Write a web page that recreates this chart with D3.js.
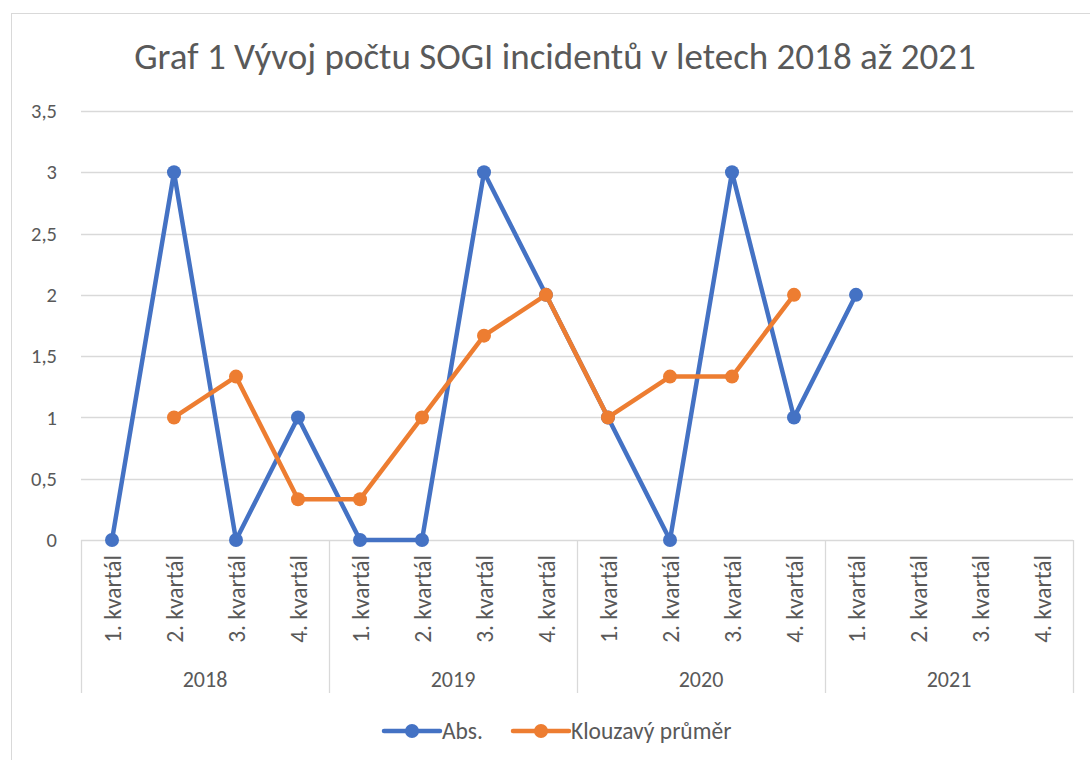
<!DOCTYPE html>
<html>
<head>
  <meta charset="utf-8">
  <style>
    body { margin: 0; background: white; }
    text { font-family: Carlito, Calibri, Lato, "Open Sans", sans-serif; fill: #595959; }
  </style>
</head>
<body>
  <script src="https://d3js.org/d3.v7.min.js"></script>
  <script>
    var width = 1090, height = 760;

    var years = ["2018", "2019", "2020", "2021"];
    var quarters = ["1. kvartál", "2. kvartál", "3. kvartál", "4. kvartál"];
    var absValues = [0, 3, 0, 1, 0, 0, 3, 2, 1, 0, 3, 1, 2, null, null, null];
    var movingAvg = [null, 1, 1.333, 0.333, 0.333, 1, 1.667, 2, 1, 1.333, 1.333, 2, null, null, null, null];
    var yTicks = [0, 0.5, 1, 1.5, 2, 2.5, 3, 3.5];

    var series = [
      { name: "Abs.", values: absValues, color: "#4472C4" },
      { name: "Klouzavý průměr", values: movingAvg, color: "#ED7D31" }
    ];

    // one entry per quarter
    var cats = [];
    years.forEach(y => quarters.forEach(q => cats.push(y + "|" + q)));

    var svg = d3.select("body").append("svg")
      .attr("width", width).attr("height", height);

    // chart frame
    svg.append("rect")
      .attr("x", 11.5).attr("y", 13.5)
      .attr("width", width).attr("height", height)
      .attr("fill", "none").attr("stroke", "#d9d9d9");

    var x = d3.scaleBand().domain(cats).range([81, 1073]);
    var y = d3.scaleLinear().domain([0, 3.5]).range([540, 111]);
    var fmt = d => d3.format("")(d).replace(".", ",");

    // title
    svg.append("text")
      .attr("x", 555).attr("y", 69)
      .attr("text-anchor", "middle")
      .style("font-size", "37px")
      .style("font-weight", 300)
      .text("Graf 1 Vývoj počtu SOGI incidentů v letech 2018 až 2021");

    // grid lines
    svg.append("g").selectAll("line")
      .data(yTicks)
      .join("line")
        .attr("x1", 81).attr("x2", 1073)
        .attr("y1", d => Math.round(y(d)) + 0.5).attr("y2", d => Math.round(y(d)) + 0.5)
        .attr("stroke", "#d9d9d9").attr("stroke-width", 1.3);

    // y labels
    svg.append("g").selectAll("text")
      .data(yTicks)
      .join("text")
        .attr("x", 57).attr("y", d => y(d))
        .attr("dy", "0.35em")
        .attr("text-anchor", "end")
        .style("font-size", "20.5px")
        .text(fmt);

    // year separators
    var yearW = x.bandwidth() * 4;
    svg.append("g").selectAll("line")
      .data(d3.range(years.length + 1))
      .join("line")
        .attr("x1", i => Math.round(81 + i * yearW) + 0.5)
        .attr("x2", i => Math.round(81 + i * yearW) + 0.5)
        .attr("y1", 540).attr("y2", 693)
        .attr("stroke", "#d9d9d9").attr("stroke-width", 1.3);

    // quarter labels (rotated)
    svg.append("g").selectAll("text")
      .data(cats)
      .join("text")
        .attr("transform", d => "translate(" + (x(d) + x.bandwidth() / 2 + 9) + ",555) rotate(-90)")
        .attr("text-anchor", "end")
        .style("font-size", "23.5px")
        .text(d => d.split("|")[1]);

    // year labels
    svg.append("g").selectAll("text")
      .data(years)
      .join("text")
        .attr("x", (d, i) => 81 + (i + 0.5) * yearW)
        .attr("y", 687)
        .attr("text-anchor", "middle")
        .style("font-size", "22px")
        .text(d => d);

    // lines and markers
    var line = d3.line()
      .defined(d => d.v != null)
      .x(d => x(d.c) + x.bandwidth() / 2)
      .y(d => y(d.v));

    series.forEach(s => {
      var pts = s.values.map((v, i) => ({ c: cats[i], v: v }));
      var g = svg.append("g");
      g.append("path")
        .datum(pts)
        .attr("d", line)
        .attr("fill", "none")
        .attr("stroke", s.color)
        .attr("stroke-width", 4.5)
        .attr("stroke-linejoin", "round")
        .attr("stroke-linecap", "round");
      g.selectAll("circle")
        .data(pts.filter(d => d.v != null))
        .join("circle")
          .attr("cx", d => x(d.c) + x.bandwidth() / 2)
          .attr("cy", d => y(d.v))
          .attr("r", 7)
          .attr("fill", s.color);
    });

    // legend
    var legendX = [384, 513];
    var legend = svg.append("g").selectAll("g")
      .data(series)
      .join("g")
        .attr("transform", (d, i) => "translate(" + legendX[i] + ",731)");
    legend.append("line")
      .attr("x1", 0).attr("x2", 56)
      .attr("stroke", d => d.color).attr("stroke-width", 4.5)
      .attr("stroke-linecap", "round");
    legend.append("circle")
      .attr("cx", 28).attr("r", 7)
      .attr("fill", d => d.color);
    legend.append("text")
      .attr("x", 58).attr("dy", "0.35em")
      .style("font-size", "23.5px")
      .text(d => d.name);
  </script>
</body>
</html>
